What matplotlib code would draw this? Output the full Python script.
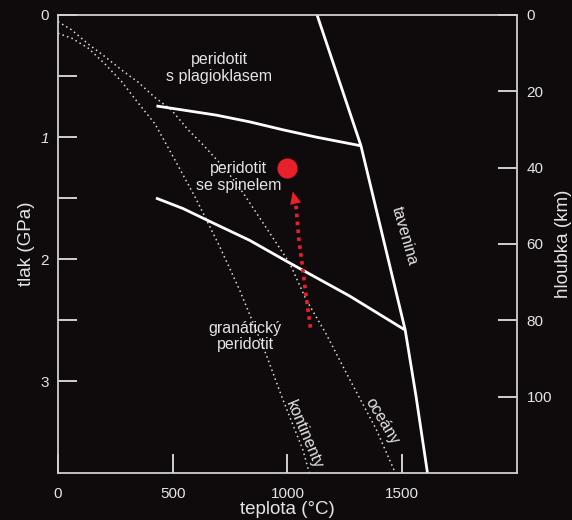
import matplotlib.pyplot as plt

plt.rcParams['font.family'] = ['Liberation Sans', 'DejaVu Sans']

# values: temperature (°C) and pressure (GPa)
solidus_t = [1129, 1320, 1513, 1560, 1610]
solidus_p = [0.0, 1.07, 2.58, 3.12, 3.75]

plag_spinel_t = [429, 690, 835, 980, 1125, 1320]
plag_spinel_p = [0.745, 0.82, 0.875, 0.94, 1.0, 1.071]

spinel_granat_t = [427, 545, 661, 835, 1009, 1270, 1513]
spinel_granat_p = [1.499, 1.585, 1.69, 1.845, 2.03, 2.30, 2.58]

kontinenty_t = [0, 60, 132, 204, 277, 349, 422, 501, 600, 704, 791, 907, 980, 1067, 1095]
kontinenty_p = [0.15, 0.19, 0.272, 0.40, 0.545, 0.72, 0.89, 1.158, 1.50, 1.894,
                2.25, 2.78, 3.15, 3.56, 3.75]

oceany_t = [0, 58, 132, 204, 277, 349, 422, 494, 567, 632, 733, 807, 1009, 1081,
            1168, 1270, 1386, 1470]
oceany_p = [0.055, 0.12, 0.238, 0.34, 0.45, 0.55, 0.675, 0.777, 0.94, 1.063,
            1.27, 1.458, 2.03, 2.33, 2.61, 2.98, 3.39, 3.75]

# decompression path of the red point
cesta_t = [1100, 1081, 1067, 1049, 1037]
cesta_p = [2.56, 2.30, 2.085, 1.83, 1.56]
hrot_t, hrot_p = 1023, 1.445
bod_t, bod_p = 999, 1.25

x_ticks = [0, 500, 1000, 1500]
p_ticks = [0, 1, 2, 3]
p_minor = [0.5, 1.5, 2.5]
km_ticks = [0, 20, 40, 60, 80, 100]
km_per_gpa = 32
p_max = 3.75

bg = '#0f0b0c'
fg = '#e4e4e4'
axis_col = '#d0d0d0'
red = '#e8202a'

fig = plt.figure(figsize=(5.72, 5.20), dpi=100, facecolor=bg)
ax = fig.add_axes([0.1014, 0.0904, 0.8024, 0.8808])
ax.set_facecolor(bg)

ax.plot(kontinenty_t, kontinenty_p, color='#dcdcdc', lw=1.1, ls=(0, (1, 2.1)))
ax.plot(oceany_t, oceany_p, color='#dcdcdc', lw=1.1, ls=(0, (1, 2.1)))

ax.plot(solidus_t, solidus_p, color='white', lw=2.0, solid_capstyle='butt')
ax.plot(plag_spinel_t, plag_spinel_p, color='white', lw=2.0, solid_capstyle='butt')
ax.plot(spinel_granat_t, spinel_granat_p, color='white', lw=2.0, solid_capstyle='butt')

ax.plot(cesta_t, cesta_p, color=red, lw=2.6, ls=(0, (1, 1.2)), dash_capstyle='butt')
ax.annotate('', xy=(hrot_t, hrot_p), xytext=(cesta_t[-1], cesta_p[-1]),
            arrowprops=dict(arrowstyle='-|>,head_length=0.45,head_width=0.2',
                            color=red, lw=0, shrinkA=0, shrinkB=0, mutation_scale=20))
ax.plot([bod_t], [bod_p], 'o', color=red, ms=14.5, mec='none')

txt = dict(color=fg, fontsize=11.5, ha='center', va='center', linespacing=1.15)
ax.text(703, 0.433, 'peridotit\ns plagioklasem', **txt)
ax.text(787, 1.329, 'peridotit\nse spinelem', **txt)
ax.text(815, 2.633, 'granátický\nperidotit', **txt)
ax.text(1509, 1.81, 'tavenina', rotation=-74, rotation_mode='anchor', **txt)
ax.text(1074, 3.44, 'kontinenty', rotation=-67, rotation_mode='anchor', **txt)
ax.text(1410, 3.33, 'oceány', rotation=-59, rotation_mode='anchor', **txt)

ax.set_xlim(0, 2000)
ax.set_ylim(p_max, 0)

for s in ax.spines.values():
    s.set_color(axis_col)
    s.set_linewidth(1.3)

ax.set_xticks(x_ticks)
ax.set_yticks(p_ticks)
ax.set_yticklabels([str(v) for v in p_ticks])
ax.get_yticklabels()[1].set_style('italic')
ax.set_yticks(p_minor, minor=True)
ax.tick_params(which='both', direction='in', length=13.5, width=1.4, color=axis_col,
               labelcolor=fg, labelsize=11, top=True, labeltop=False)
ax.tick_params(axis='x', pad=10)
ax.tick_params(axis='y', pad=6.5)
ax.set_xticks([500, 1000, 1500], minor=True)
ax.tick_params(axis='x', which='minor', top=True, bottom=False, length=13.5)
ax.xaxis.set_tick_params(which='major', top=False)

ax.set_xlabel('teplota (°C)', color=fg, fontsize=13.5, labelpad=0)
ax.set_ylabel('tlak (GPa)', color=fg, fontsize=13.5, labelpad=4)

ax2 = ax.twinx()
ax2.set_ylim(p_max * km_per_gpa, 0)
ax2.set_yticks(km_ticks)
ax2.tick_params(direction='in', length=13.5, width=1.4, color=axis_col,
                labelcolor=fg, labelsize=11, pad=7)
for s in ax2.spines.values():
    s.set_visible(False)
ax2.set_ylabel('hloubka (km)', color=fg, fontsize=13.5, labelpad=2)

fig.savefig('out.png', dpi=100, facecolor=bg)
